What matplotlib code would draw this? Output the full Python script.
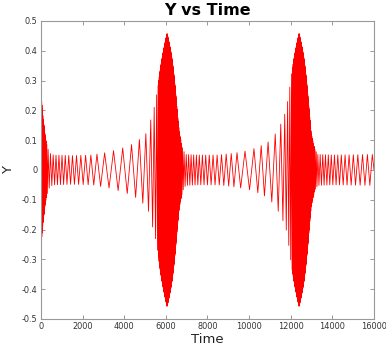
import numpy as np
import matplotlib
matplotlib.use("Agg")
import matplotlib.pyplot as plt
from matplotlib.ticker import FuncFormatter

# Envelope of the oscillation (time, amplitude)
env_t = [0, 50, 110, 200, 270, 350, 430, 600, 1500, 2500, 2750, 3200, 3600,
         4040, 4490, 4840, 5130, 5320, 5480, 5600, 5710, 5800, 5890, 5970,
         6060, 6150, 6230, 6310, 6400, 6480, 6560, 6650, 6750, 6830, 6950,
         7500, 8500, 9150, 9330, 9660, 10100, 10480, 10900, 11250, 11570,
         11780, 11920, 12050, 12140, 12230, 12310, 12400, 12490, 12570,
         12650, 12740, 12820, 12900, 12980, 13080, 13170, 13300, 14000,
         16000]
env_a = [0.265, 0.215, 0.167, 0.115, 0.089, 0.068, 0.056, 0.050, 0.048,
         0.050, 0.054, 0.059, 0.067, 0.076, 0.089, 0.108, 0.128, 0.180,
         0.220, 0.270, 0.325, 0.365, 0.400, 0.428, 0.458, 0.428, 0.400,
         0.365, 0.310, 0.250, 0.185, 0.124, 0.090, 0.067, 0.052, 0.050,
         0.050, 0.055, 0.057, 0.061, 0.068, 0.078, 0.093, 0.120, 0.160,
         0.200, 0.260, 0.330, 0.365, 0.400, 0.428, 0.458, 0.428, 0.400,
         0.365, 0.310, 0.250, 0.185, 0.124, 0.090, 0.067, 0.052, 0.050,
         0.052]

# Apparent oscillation period along the record (time, period)
per_t = [0, 150, 250, 350, 450, 1000, 1500, 2000, 2500, 2800, 3200, 3600,
         4000, 4500, 4800, 5100, 5320, 5480, 5590, 5680, 5750, 6450, 6650,
         6800, 6920, 7300, 7700, 8200, 8700, 9200, 9450, 9700, 10100, 10600,
         10900, 11250, 11570, 11780, 11920, 12020, 12100, 12150, 12800,
         13000, 13200, 13350, 13500, 14000, 14500, 15000, 15500, 16000]
per_p = [4, 6, 30, 100, 128, 150, 185, 225, 280, 360, 430, 440, 440, 390,
         330, 265, 180, 130, 80, 20, 8, 8, 20, 60, 110, 125, 150, 185, 220,
         255, 330, 430, 440, 300, 370, 320, 210, 140, 100, 80, 30, 8, 8, 20,
         60, 115, 126, 150, 180, 210, 235, 235]

x_ticks = [0, 2000, 4000, 6000, 8000, 10000, 12000, 14000, 16000]
y_ticks = [-0.5, -0.4, -0.3, -0.2, -0.1, 0, 0.1, 0.2, 0.3, 0.4, 0.5]

# Turning points of the trace from the accumulated phase
tt = np.linspace(0, 16000, 400001)
period = np.exp(np.interp(tt, per_t, np.log(per_p)))
phase = np.concatenate([[0], np.cumsum(np.diff(tt) * 2 * np.pi /
                                       0.5 / (period[1:] + period[:-1]))])
k = np.arange(0, int(phase[-1] / np.pi) + 1)
t_ext = np.interp(k * np.pi, phase, tt)
t_ext = np.append(t_ext, 16000)
sign = np.where(np.arange(len(t_ext)) % 2 == 0, 1.0, -1.0)
y_ext = sign * np.interp(t_ext, env_t, env_a)
y_ext[-1] = 0.0

plt.rcParams['axes.unicode_minus'] = False
fig = plt.figure(figsize=(3.86, 3.47), dpi=100)
ax = fig.add_axes([0.106, 0.081, 0.863, 0.8585])
ax.plot(t_ext, y_ext, color='#ff0000', lw=0.6)

ax.set_xlim(0, 16000)
ax.set_ylim(-0.5, 0.5)
ax.set_xticks(x_ticks)
ax.set_yticks(y_ticks)
ax.yaxis.set_major_formatter(FuncFormatter(lambda v, p: f"{v:g}"))
ax.tick_params(direction='in', length=3, width=0.6, colors='#888888',
               labelcolor='#333333', labelsize=5.9, top=True, right=True,
               pad=2.5)
for s in ax.spines.values():
    s.set_color('#999999')
    s.set_linewidth(0.8)

ax.set_title('Y vs Time', fontsize=11.5, fontweight='bold', pad=4)
ax.set_xlabel('Time', fontsize=9.5, color='#222222', labelpad=1)
ax.set_ylabel('Y', fontsize=9.5, color='#222222', labelpad=5)

fig.savefig('out.png', dpi=100)
